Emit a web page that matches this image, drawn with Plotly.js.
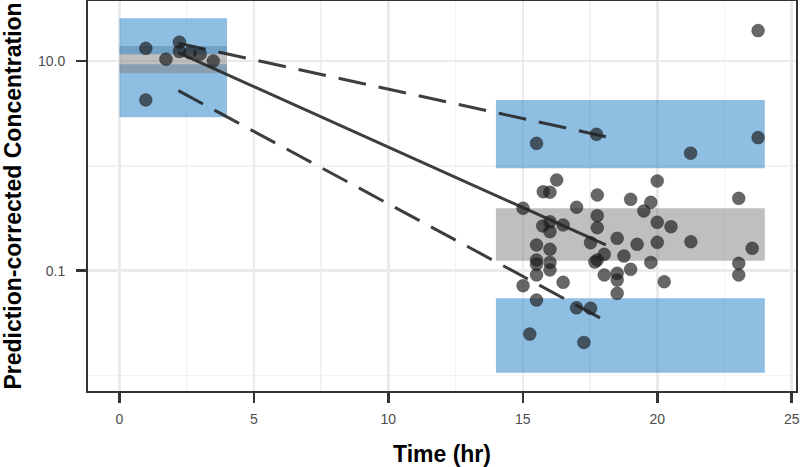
<!DOCTYPE html>
<html>
<head>
<meta charset="utf-8">
<script src="https://cdn.plot.ly/plotly-3.0.1.min.js"></script>
<style>html,body{margin:0;padding:0;background:#fff;}#chart{width:800px;height:467px;}</style>
</head>
<body>
<div id="chart"></div>
<script>
// Observed data (time in hr, prediction-corrected concentration)
const obsTime = [0.98, 0.98, 1.73, 2.23, 2.23, 2.62, 3.0, 3.49,
  23.75, 15.51, 17.74, 21.24, 23.75,
  16.26, 15.76, 16.01, 15.01, 17.0, 17.77, 19.01, 15.74, 16.01, 16.01, 16.50, 17.77, 17.77,
  17.52, 18.51, 19.25, 15.51, 16.01, 18.03, 17.77, 17.68, 18.76, 19.01, 15.51, 15.51, 16.01,
  16.01, 15.51, 15.01, 16.50, 18.03, 18.51, 18.51, 18.51, 15.51, 17.0, 17.52, 15.26, 17.27,
  20.0, 19.76, 19.50, 23.03, 20.0, 20.51, 21.25, 20.0, 19.76, 20.26, 23.53, 23.03, 23.03];
const obsConc = [13.2, 4.25, 10.4, 15.1, 12.3, 12.0, 11.6, 10.0,
  19.5, 1.64, 2.0, 1.32, 1.86,
  0.733, 0.567, 0.560, 0.394, 0.403, 0.527, 0.480, 0.267, 0.293, 0.2355, 0.273, 0.3346, 0.257,
  0.185, 0.2037, 0.1787, 0.1758, 0.160, 0.1434, 0.1265, 0.121, 0.138, 0.1031, 0.1265, 0.115, 0.120,
  0.1016, 0.0910, 0.0720, 0.0775, 0.0910, 0.0945, 0.0815, 0.0609, 0.0525, 0.0443, 0.0438, 0.0249, 0.0207,
  0.717, 0.449, 0.371, 0.490, 0.2896, 0.263, 0.189, 0.1866, 0.120, 0.0785, 0.1636, 0.1176, 0.091];

// Bins and simulated confidence intervals
const binStart = [0, 14];
const binEnd = [4, 24];
const p5CILow = [2.9, 0.01064];
const p5CIHigh = [9.3, 0.0546];
const p50CILow = [7.64, 0.1245];
const p50CIHigh = [13.9, 0.394];
const p95CILow = [11.6, 0.948];
const p95CIHigh = [25.5, 4.25];

// Observed percentiles at bin midpoints
const pctTime = [2.19, 18.09];
const obsP5 = [5.21, 0.0331];
const obsP50 = [12.0, 0.176];
const obsP95 = [14.75, 1.897];

const BLUE = 'rgba(51,136,204,0.55)';
const GREY = 'rgba(128,128,128,0.5)';

function rectTrace(i, lo, hi, color) {
  return {
    type: 'scatter', mode: 'lines', fill: 'toself', fillcolor: color,
    line: {width: 0}, hoverinfo: 'skip', showlegend: false,
    x: [binStart[i], binEnd[i], binEnd[i], binStart[i], binStart[i]],
    y: [lo[i], lo[i], hi[i], hi[i], lo[i]]
  };
}

const traces = [];
for (let i = 0; i < binStart.length; i++) {
  traces.push(rectTrace(i, p5CILow, p5CIHigh, BLUE));
  traces.push(rectTrace(i, p50CILow, p50CIHigh, GREY));
  traces.push(rectTrace(i, p95CILow, p95CIHigh, BLUE));
}
traces.push({type: 'scatter', mode: 'markers', x: obsTime, y: obsConc, showlegend: false,
  marker: {size: 13, color: 'rgba(25,25,25,0.66)', line: {width: 0.6, color: 'rgba(0,0,0,0.35)'}}});
const lineStyle = (dash) => ({color: 'rgba(35,35,35,0.88)', width: 3, dash: dash});
traces.push({type: 'scatter', mode: 'lines', x: pctTime, y: obsP50, line: lineStyle('solid'), showlegend: false});
traces.push({type: 'scatter', mode: 'lines', x: pctTime, y: obsP5, line: lineStyle('28px,13px'), showlegend: false});
traces.push({type: 'scatter', mode: 'lines', x: pctTime, y: obsP95, line: lineStyle('28px,13px'), showlegend: false});

const tickFont = {family: 'Liberation Sans, Arial, sans-serif', size: 14, color: '#4d4d4d'};
const titleFont = {family: 'Liberation Sans, Arial, sans-serif', size: 23, color: '#000', weight: 'bold'};

const layout = {
  width: 800, height: 467,
  margin: {l: 88, r: 4, t: 1, b: 76},
  paper_bgcolor: '#fff', plot_bgcolor: '#fff',
  showlegend: false,
  xaxis: {
    range: [-1.17, 25.16], tickmode: 'linear', tick0: 0, dtick: 5,
    ticks: 'outside', ticklen: 10, tickwidth: 2.5, tickcolor: '#333',
    tickfont: tickFont, ticklabelstandoff: 4,
    showgrid: true, gridcolor: '#ebebeb', gridwidth: 2.5,
    minor: {tick0: 0, dtick: 2.5, showgrid: true, gridcolor: '#f2f2f2', gridwidth: 1.5, ticks: ''},
    zeroline: false, showline: true, mirror: true, linecolor: '#333', linewidth: 2,
    title: {text: 'Time (hr)', font: titleFont, standoff: 21}
  },
  yaxis: {
    type: 'log', range: [-2.147, 1.572],
    tickmode: 'array', tickvals: [0.1, 10], ticktext: ['0.1', '10.0'],
    ticks: 'outside', ticklen: 10, tickwidth: 2.5, tickcolor: '#333',
    tickfont: tickFont, ticklabelstandoff: 8,
    showgrid: true, gridcolor: '#ebebeb', gridwidth: 2.5,
    minor: {tickmode: 'array', tickvals: [0.01, 1], showgrid: true, gridcolor: '#f2f2f2', gridwidth: 1.5, ticks: ''},
    zeroline: false, showline: true, mirror: true, linecolor: '#333', linewidth: 2,
    title: {text: 'Prediction-corrected Concentration', font: titleFont, standoff: 13}
  }
};

Plotly.newPlot('chart', traces, layout, {staticPlot: true, displayModeBar: false});
</script>
</body>
</html>
